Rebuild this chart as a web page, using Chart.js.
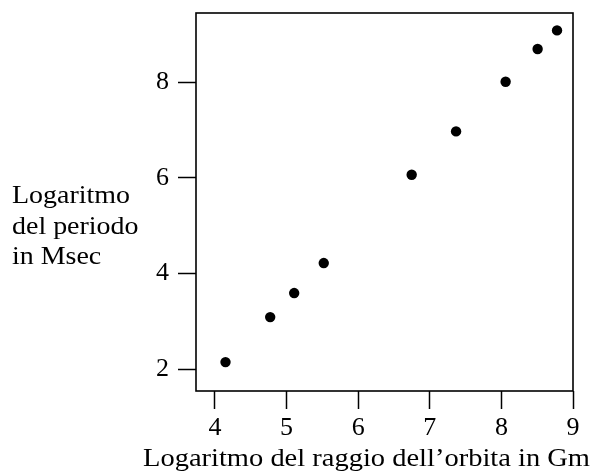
<!DOCTYPE html>
<html>
<head>
<meta charset="utf-8">
<script src="https://cdn.jsdelivr.net/npm/chart.js@4/dist/chart.umd.min.js"></script>
<style>
  html, body { margin: 0; padding: 0; background: #fff; }
  #wrap { width: 595px; height: 471px; }
</style>
</head>
<body>
<div id="wrap"><canvas id="c" width="595" height="471"></canvas></div>
<script>
// Logarithm of orbit radius (Gm) vs logarithm of orbital period (Msec)
const logRadius = [4.147, 4.771, 5.106, 5.519, 6.747, 7.367, 8.059, 8.506, 8.777];
const logPeriod = [2.146, 3.087, 3.589, 4.216, 6.062, 6.968, 8.007, 8.690, 9.079];
const xTicks = [4, 5, 6, 7, 8, 9];
const yTicks = [2, 4, 6, 8];
const xTitle = 'Logaritmo del raggio dell\u2019orbita in Gm';
const yTitleLines = ['Logaritmo', 'del periodo', 'in Msec'];

const FONT = '"Liberation Serif", "Times New Roman", serif';

// draws a line of text stretched horizontally by sx
function fitText(ctx, text, x, y, align, sx) {
  ctx.save();
  ctx.translate(x, y);
  ctx.scale(sx, 1);
  ctx.textAlign = align;
  ctx.fillText(text, 0, 0);
  ctx.restore();
}

const frameAndTitles = {
  id: 'frameAndTitles',
  afterDatasetsDraw(chart) {
    const { ctx, chartArea: a } = chart;
    ctx.save();
    ctx.strokeStyle = '#000';
    ctx.lineWidth = 1.6;
    ctx.strokeRect(a.left, a.top, a.right - a.left, a.bottom - a.top);

    ctx.fillStyle = '#000';
    ctx.textBaseline = 'alphabetic';
    ctx.font = '26px ' + FONT;

    // x-axis title
    const wx = ctx.measureText(xTitle).width;
    fitText(ctx, xTitle, 366.5, 466, 'center', 447 / wx);

    // y-axis title, three horizontal lines on the left
    const w0 = ctx.measureText(yTitleLines[0]).width;
    const sy = 118 / w0;
    const baselines = [203, 233.5, 264];
    yTitleLines.forEach((t, i) => fitText(ctx, t, 12, baselines[i], 'left', sy));
    ctx.restore();
  }
};

const axisCommon = {
  type: 'linear',
  grid: {
    drawOnChartArea: false,
    drawTicks: true,
    tickLength: 18,
    tickWidth: 1.5,
    tickColor: '#000'
  },
  border: { display: false },
  ticks: {
    color: '#000',
    font: { family: FONT, size: 26 }
  }
};

new Chart(document.getElementById('c'), {
  type: 'scatter',
  data: {
    datasets: [{
      data: logRadius.map((x, i) => ({ x, y: logPeriod[i] })),
      backgroundColor: '#000',
      borderWidth: 0,
      pointRadius: 5.2,
      pointHoverRadius: 5.2
    }]
  },
  options: {
    responsive: false,
    animation: false,
    events: [],
    layout: { padding: { top: 13, right: 22, bottom: 0, left: 0 } },
    plugins: { legend: { display: false }, tooltip: { enabled: false } },
    scales: {
      x: Object.assign({}, axisCommon, {
        position: 'bottom',
        min: 3.735,
        max: 9.0,
        ticks: Object.assign({}, axisCommon.ticks, { padding: 4 }),
        afterBuildTicks(s) { s.ticks = xTicks.map(v => ({ value: v })); },
        afterFit(s) { s.height = 80; s.paddingLeft = 0; s.paddingRight = 0; }
      }),
      y: Object.assign({}, axisCommon, {
        position: 'left',
        min: 1.542,
        max: 9.443,
        ticks: Object.assign({}, axisCommon.ticks, { padding: 9 }),
        afterBuildTicks(s) { s.ticks = yTicks.map(v => ({ value: v })); },
        afterFit(s) { s.width = 196; s.paddingTop = 0; s.paddingBottom = 0; }
      })
    }
  },
  plugins: [frameAndTitles]
});
</script>
</body>
</html>
